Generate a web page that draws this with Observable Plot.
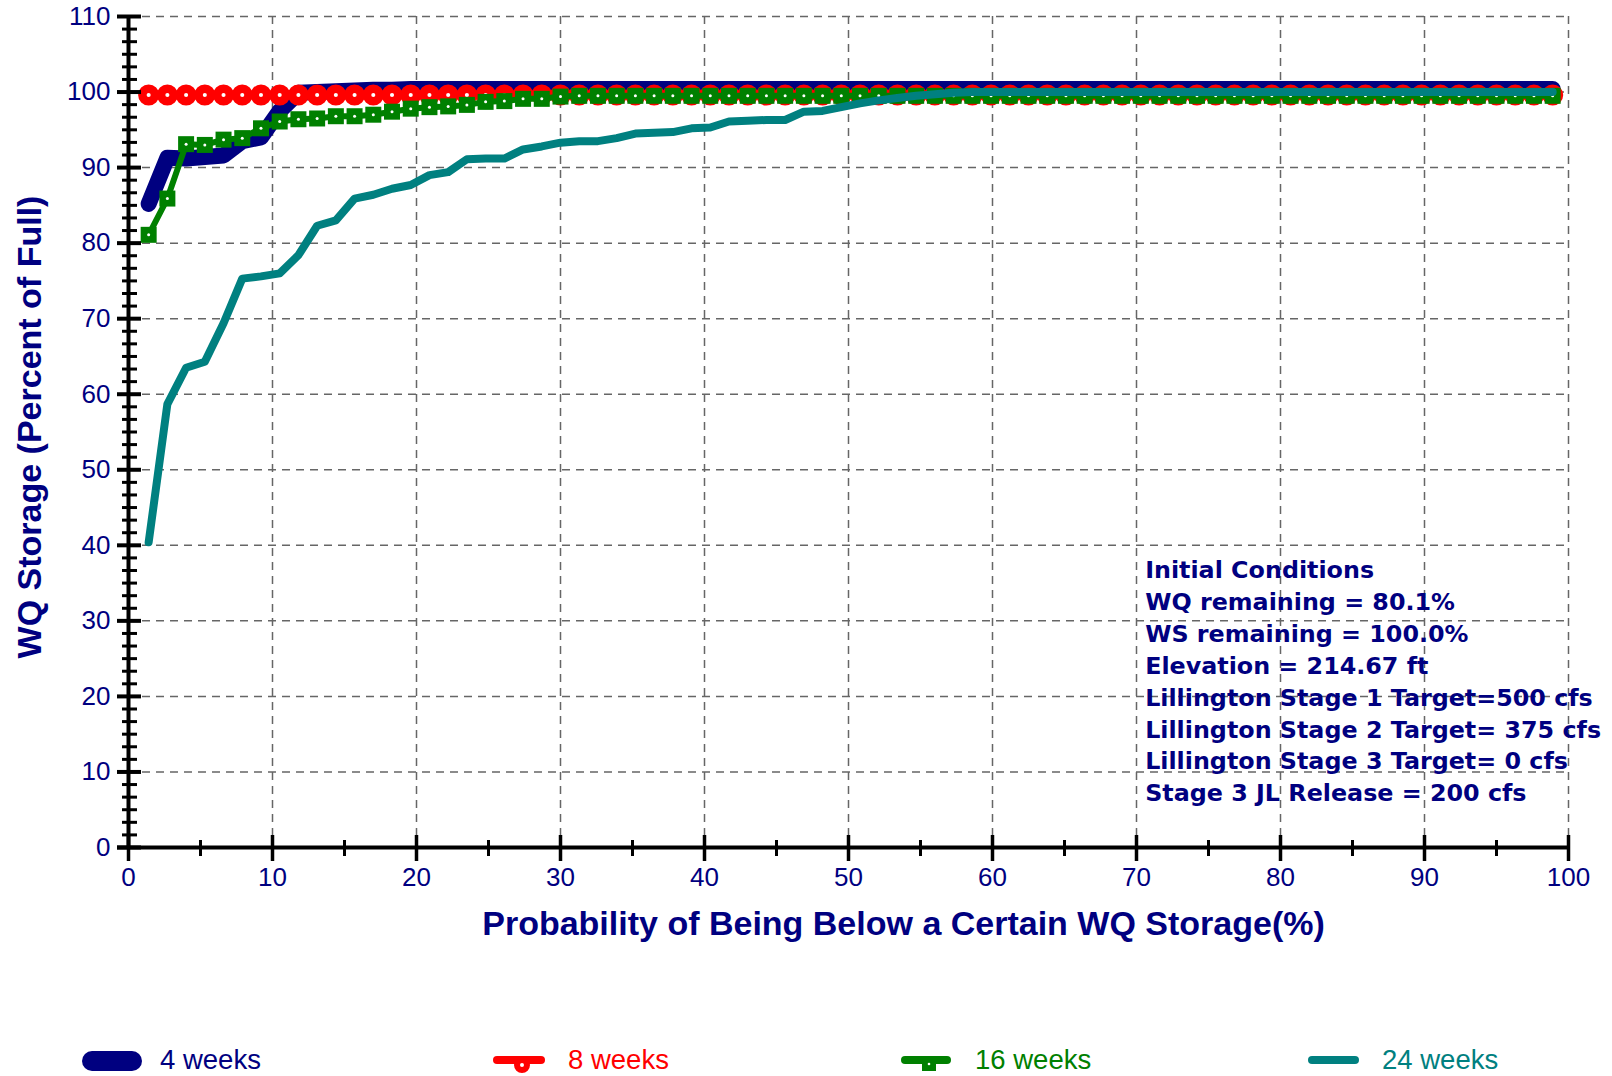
<!DOCTYPE html>
<html>
<head>
<meta charset="utf-8">
<script src="https://cdn.jsdelivr.net/npm/d3@7"></script>
<script src="https://cdn.jsdelivr.net/npm/@observablehq/plot@0.6"></script>
<style>
  html, body { margin: 0; padding: 0; background: #fff; }
  #chart svg, #legend svg { display: block; }
</style>
</head>
<body>
<div id="chart"></div>
<div id="legend"></div>
<script>
// ---------------- data ----------------
const seriesNames = ["4 weeks", "8 weeks", "16 weeks", "24 weeks"];
const seriesColors = ["#000080", "#ff0000", "#008000", "#008080"];

// probability of being below (plotting position, %)
const probability = [
  1.4, 2.7, 4.0, 5.3, 6.6, 7.9, 9.2, 10.5, 11.8, 13.1,
  14.4, 15.7, 17.0, 18.3, 19.6, 20.9, 22.2, 23.5, 24.8, 26.1,
  27.4, 28.7, 30.0, 31.3, 32.6, 33.9, 35.2, 36.5, 37.8, 39.1,
  40.4, 41.7, 43.0, 44.3, 45.6, 46.9, 48.2, 49.5, 50.8, 52.1,
  53.4, 54.7, 56.0, 57.3, 58.6, 59.9, 61.2, 62.5, 63.8, 65.1,
  66.4, 67.7, 69.0, 70.3, 71.6, 72.9, 74.2, 75.5, 76.8, 78.1,
  79.4, 80.7, 82.0, 83.3, 84.6, 85.9, 87.2, 88.5, 89.8, 91.1,
  92.4, 93.7, 95.0, 96.3, 97.6, 98.9
];

const weeks4 = [
  85.2, 91.3, 91.2, 91.4, 91.6, 93.5, 94.0, 97.5, 99.9, 100.0,
  100.1, 100.2, 100.3, 100.3, 100.4, 100.4, 100.4, 100.4, 100.4, 100.4,
  100.4, 100.4, 100.4, 100.4, 100.4, 100.4, 100.4, 100.4, 100.4, 100.4,
  100.4, 100.4, 100.4, 100.4, 100.4, 100.4, 100.4, 100.4, 100.4, 100.4,
  100.4, 100.4, 100.4, 100.4, 100.4, 100.4, 100.4, 100.4, 100.4, 100.4,
  100.4, 100.4, 100.4, 100.4, 100.4, 100.4, 100.4, 100.4, 100.4, 100.4,
  100.4, 100.4, 100.4, 100.4, 100.4, 100.4, 100.4, 100.4, 100.4, 100.4,
  100.4, 100.4, 100.4, 100.4, 100.4, 100.4
];

const weeks8 = [
  99.6, 99.6, 99.6, 99.6, 99.6, 99.6, 99.6, 99.6, 99.6, 99.6,
  99.6, 99.6, 99.6, 99.6, 99.6, 99.6, 99.6, 99.6, 99.6, 99.6,
  99.6, 99.6, 99.6, 99.6, 99.6, 99.6, 99.6, 99.6, 99.6, 99.6,
  99.6, 99.6, 99.6, 99.6, 99.6, 99.6, 99.6, 99.6, 99.6, 99.6,
  99.6, 99.6, 99.6, 99.6, 99.6, 99.6, 99.6, 99.6, 99.6, 99.6,
  99.6, 99.6, 99.6, 99.6, 99.6, 99.6, 99.6, 99.6, 99.6, 99.6,
  99.6, 99.6, 99.6, 99.6, 99.6, 99.6, 99.6, 99.6, 99.6, 99.6,
  99.6, 99.6, 99.6, 99.6, 99.6, 99.6
];

const weeks16 = [
  81.1, 85.9, 93.1, 93.0, 93.7, 93.9, 95.2, 96.1, 96.4, 96.5,
  96.8, 96.8, 97.0, 97.4, 97.8, 98.0, 98.1, 98.3, 98.7, 98.8,
  99.1, 99.1, 99.4, 99.5, 99.5, 99.5, 99.5, 99.5, 99.5, 99.5,
  99.5, 99.5, 99.5, 99.5, 99.5, 99.5, 99.5, 99.5, 99.5, 99.5,
  99.5, 99.5, 99.5, 99.5, 99.5, 99.5, 99.5, 99.5, 99.5, 99.5,
  99.5, 99.5, 99.5, 99.5, 99.5, 99.5, 99.5, 99.5, 99.5, 99.5,
  99.5, 99.5, 99.5, 99.5, 99.5, 99.5, 99.5, 99.5, 99.5, 99.5,
  99.5, 99.5, 99.5, 99.5, 99.5, 99.5
];

const weeks24 = [
  40.4, 58.7, 63.5, 64.3, 69.4, 75.3, 75.6, 76.0, 78.4, 82.3,
  83.0, 85.9, 86.4, 87.2, 87.7, 89.0, 89.4, 91.1, 91.2, 91.2,
  92.4, 92.8, 93.3, 93.5, 93.5, 93.9, 94.5, 94.6, 94.7, 95.2,
  95.3, 96.1, 96.2, 96.3, 96.3, 97.4, 97.5, 98.0, 98.5, 98.9,
  99.2, 99.5, 99.7, 99.9, 100.0, 100.0, 100.0, 100.0, 100.0, 100.0,
  100.0, 100.0, 100.0, 100.0, 100.0, 100.0, 100.0, 100.0, 100.0, 100.0,
  100.0, 100.0, 100.0, 100.0, 100.0, 100.0, 100.0, 100.0, 100.0, 100.0,
  100.0, 100.0, 100.0, 100.0, 100.0, 100.0
];

const xTicks = [0, 10, 20, 30, 40, 50, 60, 70, 80, 90, 100];
const xMinorTicks = [5, 15, 25, 35, 45, 55, 65, 75, 85, 95];
const yTicks = [0, 10, 20, 30, 40, 50, 60, 70, 80, 90, 100, 110];
const yMinorTicks = d3.range(1, 66).filter(k => k % 6 !== 0).map(k => k * 10 / 6);

const xTitle = "Probability of Being Below a Certain WQ Storage(%)";
const yTitle = "WQ Storage (Percent of Full)";
const annotationLines = [
  "Initial Conditions",
  "WQ remaining = 80.1%",
  "WS remaining = 100.0%",
  "Elevation = 214.67 ft",
  "Lillington Stage 1 Target=500 cfs",
  "Lillington Stage 2 Target= 375 cfs",
  "Lillington Stage 3 Target= 0 cfs",
  "Stage 3 JL Release = 200 cfs"
];

// ---------------- build ----------------
const rows = (vals) => probability.map((p, i) => ({p, v: vals[i]}));
const d4 = rows(weeks4), d8 = rows(weeks8), d16 = rows(weeks16), d24 = rows(weeks24);

const navy = "#000080";
const sans = "'Liberation Sans', Arial, sans-serif";
const gridStyle = {stroke: "#666", strokeOpacity: 1, strokeWidth: 1.5, strokeDasharray: "8,6"};
// fixed-size square marker (about 16 px side)
const squareMarker = {draw(context) { const s = 8; context.rect(-s, -s, 2 * s, 2 * s); }};

const chart = Plot.plot({
  width: 1612,
  height: 1020,
  marginLeft: 128,
  marginRight: 44,
  marginTop: 16,
  marginBottom: 173,
  x: {domain: [0, 100], axis: null},
  y: {domain: [0, 110], axis: null},
  style: {background: "white", overflow: "visible"},
  marks: [
    // grid
    Plot.ruleX(xTicks.filter(d => d > 0), {x: d => d, ...gridStyle}),
    Plot.ruleY(yTicks.filter(d => d > 0), {y: d => d, ...gridStyle}),
    // series
    Plot.line(d4, {x: "p", y: "v", stroke: seriesColors[0], strokeWidth: 16, strokeLinecap: "round", strokeLinejoin: "round"}),
    Plot.line(d8, {x: "p", y: "v", stroke: seriesColors[1], strokeWidth: 6}),
    Plot.dot(d8, {x: "p", y: "v", r: 6.3, stroke: seriesColors[1], strokeWidth: 8.5, fill: "white"}),
    Plot.line(d16, {x: "p", y: "v", stroke: seriesColors[2], strokeWidth: 6}),
    Plot.dot(d16, {x: "p", y: "v", symbol: squareMarker, r: 8, fill: seriesColors[2], stroke: "none"}),
    Plot.dot(d16, {x: "p", y: "v", r: 1.5, fill: "white", stroke: "none"}),
    Plot.line(d24, {x: "p", y: "v", stroke: seriesColors[3], strokeWidth: 8, strokeLinecap: "round", strokeLinejoin: "round"}),
    // annotation
    Plot.text([annotationLines.join("\n")], {
      x: 70.6, y: 38.66, text: d => d,
      textAnchor: "start", lineAnchor: "top", lineHeight: 1.34,
      fontSize: 23.8, fontFamily: "'DejaVu Sans', Verdana, sans-serif", fontWeight: "bold", fill: navy
    }),
    // axis lines
    Plot.ruleX([0], {x: d => d, stroke: "black", strokeWidth: 4}),
    Plot.ruleY([0], {y: d => d, stroke: "black", strokeWidth: 4, insetLeft: -11}),
    // y ticks (crossing axis)
    Plot.ruleY(yTicks, {y: d => d, x1: 0, x2: 0, insetLeft: -11, insetRight: -13, stroke: "black", strokeWidth: 4}),
    Plot.ruleY(yMinorTicks, {y: d => d, x1: 0, x2: 0, insetLeft: -6, insetRight: -9, stroke: "black", strokeWidth: 3}),
    // x ticks
    Plot.ruleX(xTicks, {x: d => d, y1: 0, y2: 0, insetTop: -12, insetBottom: -14, stroke: "black", strokeWidth: 3.5}),
    Plot.ruleX(xMinorTicks, {x: d => d, y1: 0, y2: 0, insetTop: -7, insetBottom: -9, stroke: "black", strokeWidth: 3}),
    // tick labels
    Plot.text(yTicks, {x: 0, y: d => d, text: d => String(d), dx: -18, textAnchor: "end", lineAnchor: "middle",
      fontSize: 26, fontFamily: sans, fill: navy}),
    Plot.text(xTicks, {x: d => d, y: 0, text: d => String(d), dy: 20, textAnchor: "middle", lineAnchor: "top",
      fontSize: 26, fontFamily: sans, fill: navy}),
    // axis titles
    Plot.text([xTitle], {frameAnchor: "bottom", text: d => d, dx: 55, dy: 77, textAnchor: "middle", lineAnchor: "middle",
      fontSize: 34, fontFamily: sans, fontWeight: "bold", fill: navy}),
    Plot.text([yTitle], {frameAnchor: "left", text: d => d, rotate: -90, dx: -98, dy: -5, textAnchor: "middle", lineAnchor: "middle",
      fontSize: 34, fontFamily: sans, fontWeight: "bold", fill: navy})
  ]
});
document.getElementById("chart").appendChild(chart);

// ---------------- legend (below the plot) ----------------
const legendLayout = [
  {swatchX: 82, swatchW: 60, textX: 160},
  {swatchX: 493, swatchW: 52, textX: 568},
  {swatchX: 901, swatchW: 50, textX: 975},
  {swatchX: 1308, swatchW: 51, textX: 1382}
];
const legend = d3.create("svg").attr("width", 1612).attr("height", 56);
const cy = 40;
seriesNames.forEach((name, i) => {
  const L = legendLayout[i], c = seriesColors[i];
  const g = legend.append("g");
  if (i === 0) {
    g.append("rect").attr("x", L.swatchX).attr("y", cy - 9).attr("width", L.swatchW).attr("height", 20)
      .attr("rx", 10).attr("fill", c);
  } else {
    g.append("line").attr("x1", L.swatchX + 4).attr("x2", L.swatchX + L.swatchW - 4)
      .attr("y1", cy).attr("y2", cy).attr("stroke", c).attr("stroke-width", 8).attr("stroke-linecap", "round");
    const mx = L.swatchX + L.swatchW / 2 + 3;
    if (i === 1) {
      g.append("circle").attr("cx", mx).attr("cy", cy + 5).attr("r", 5).attr("fill", "white")
        .attr("stroke", c).attr("stroke-width", 6);
    } else if (i === 2) {
      g.append("rect").attr("x", mx - 7).attr("y", cy - 3).attr("width", 14).attr("height", 14).attr("fill", c);
      g.append("circle").attr("cx", mx).attr("cy", cy + 4).attr("r", 1.3).attr("fill", "white");
    }
  }
  g.append("text").attr("x", L.textX).attr("y", cy).attr("dy", "0.33em")
    .attr("font-family", sans).attr("font-size", 27.5).attr("fill", c).text(name);
});
document.getElementById("legend").appendChild(legend.node());
</script>
</body>
</html>
